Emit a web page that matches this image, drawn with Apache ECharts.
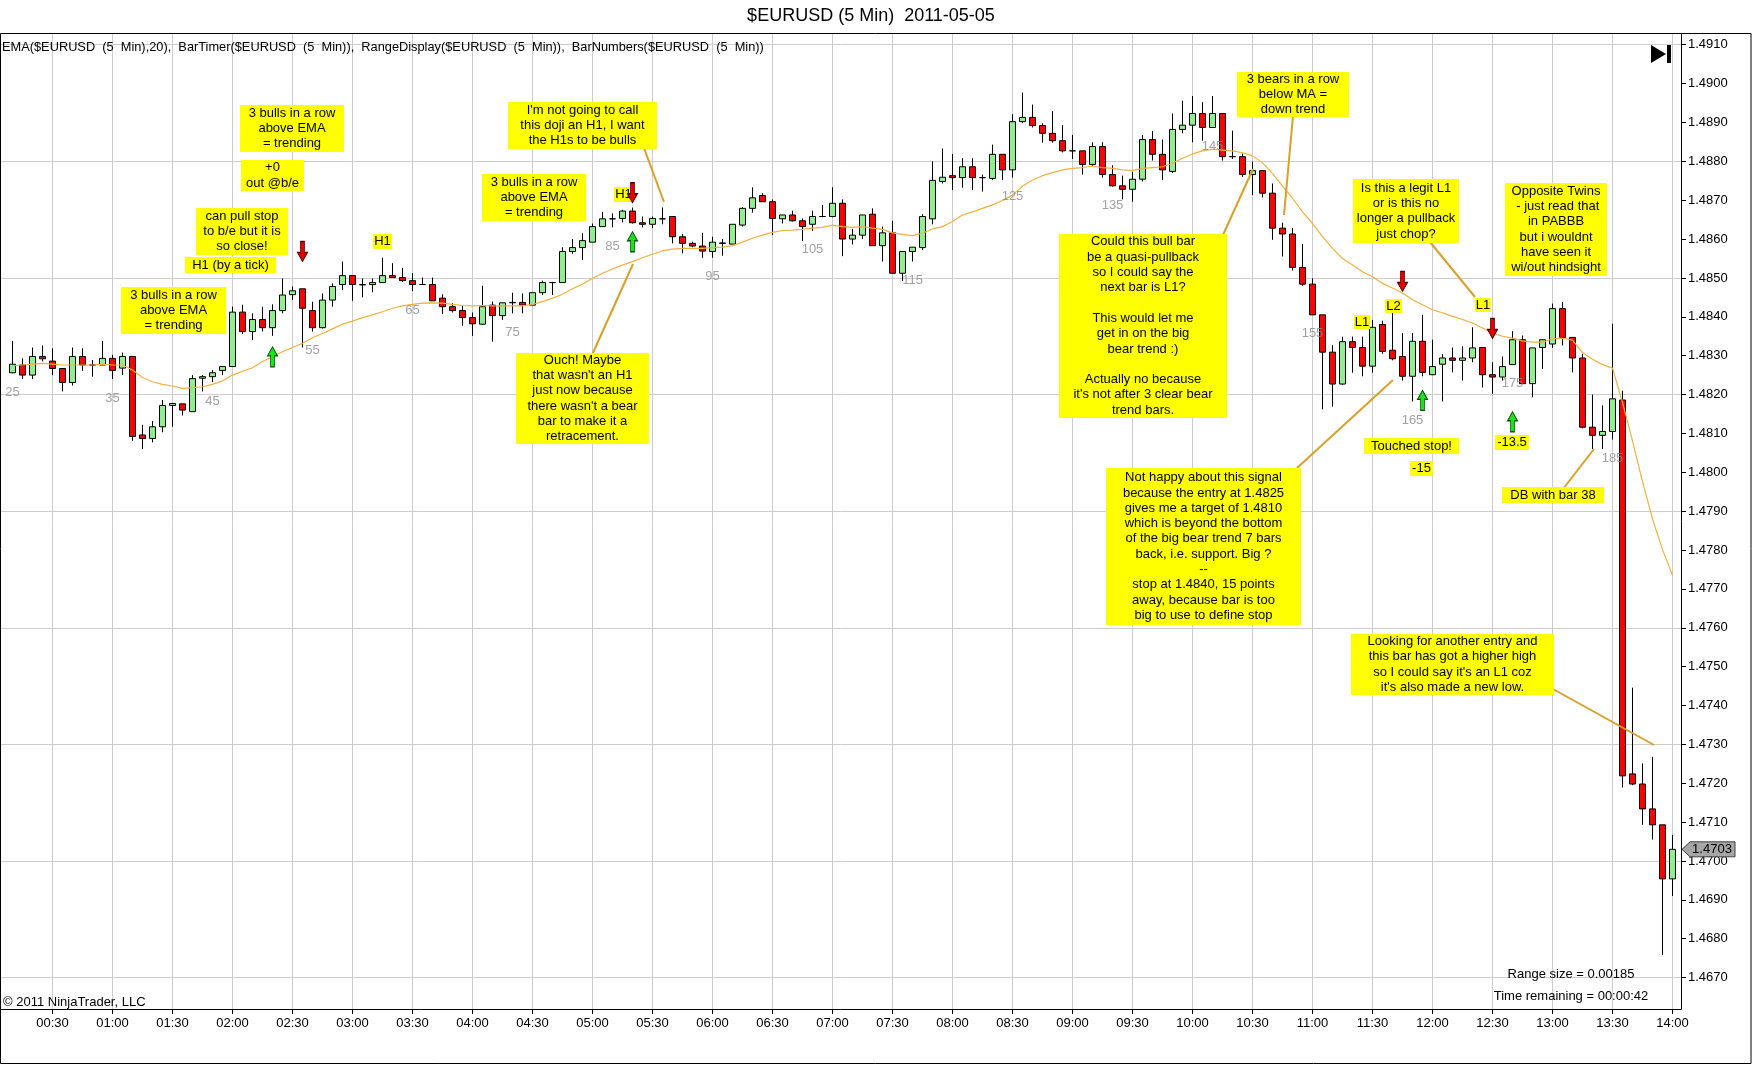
<!DOCTYPE html>
<html><head><meta charset="utf-8">
<script src="https://cdn.jsdelivr.net/npm/echarts@6/dist/echarts.min.js"></script>
<style>html,body{margin:0;padding:0;background:#fff}#c{width:1752px;height:1065px}</style>
</head><body><div id="c"></div>
<script>
// ---- data ----
const firstBarNumber = 25;
const firstBarMinute = 10;   // 00:10
const barMinutes = 5;
const openPrices = [
1.48256,1.48276,1.48250,1.48298,1.48286,1.48267,1.48231,1.48298,1.48276,1.48276,
1.48293,1.48268,1.48298,1.48096,1.48087,1.48117,1.48172,1.48176,1.48156,1.48242,
1.48246,1.48262,1.48272,1.48412,1.48362,1.48393,1.48372,1.48416,1.48457,1.48472,
1.48416,1.48372,1.48443,1.48483,1.48506,1.48483,1.48483,1.48488,1.48506,1.48501,
1.48493,1.48483,1.48483,1.48448,1.48426,1.48416,1.48398,1.48381,1.48430,1.48403,
1.48436,1.48437,1.48430,1.48462,1.48488,1.48488,1.48568,1.48578,1.48592,1.48632,
1.48652,1.48653,1.48672,1.48642,1.48638,1.48652,1.48658,1.48606,1.48589,1.48582,
1.48568,1.48590,1.48587,1.48636,1.48679,1.48712,1.48696,1.48652,1.48662,1.48647,
1.48638,1.48658,1.48658,1.48692,1.48600,1.48610,1.48664,1.48583,1.48616,1.48512,
1.48568,1.48578,1.48652,1.48748,1.48763,1.48758,1.48786,1.48758,1.48756,1.48818,
1.48778,1.48902,1.48913,1.48892,1.48872,1.48853,1.48827,1.48827,1.48792,1.48838,
1.48766,1.48737,1.48728,1.48754,1.48856,1.48818,1.48774,1.48882,1.48893,1.48923,
1.48887,1.48923,1.48812,1.48812,1.48766,1.48776,1.48718,1.48628,1.48613,1.48527,
1.48484,1.48405,1.48309,1.48227,1.48336,1.48321,1.48273,1.48380,1.48314,1.48298,
1.48247,1.48337,1.48251,1.48278,1.48294,1.48288,1.48294,1.48321,1.48251,1.48245,
1.48277,1.48341,1.48228,1.48321,1.48330,1.48421,1.48347,1.48294,1.48116,1.48095,
1.48105,1.48186,1.47224,1.47198,1.47134,1.47093,1.46954];
const closePrices = [
1.48278,1.48250,1.48298,1.48292,1.48267,1.48231,1.48298,1.48276,1.48276,1.48293,
1.48262,1.48298,1.48092,1.48087,1.48117,1.48172,1.48177,1.48160,1.48241,1.48246,
1.48256,1.48272,1.48412,1.48362,1.48393,1.48372,1.48416,1.48456,1.48467,1.48422,
1.48372,1.48443,1.48478,1.48506,1.48483,1.48482,1.48488,1.48506,1.48501,1.48493,
1.48483,1.48483,1.48441,1.48426,1.48416,1.48398,1.48382,1.48426,1.48403,1.48436,
1.48437,1.48430,1.48462,1.48488,1.48488,1.48568,1.48578,1.48596,1.48632,1.48652,
1.48652,1.48672,1.48642,1.48638,1.48653,1.48652,1.48606,1.48589,1.48582,1.48569,
1.48592,1.48589,1.48638,1.48679,1.48706,1.48696,1.48653,1.48662,1.48647,1.48632,
1.48658,1.48658,1.48692,1.48600,1.48610,1.48662,1.48583,1.48616,1.48512,1.48568,
1.48579,1.48658,1.48751,1.48759,1.48758,1.48786,1.48758,1.48758,1.48818,1.48778,
1.48902,1.48913,1.48892,1.48872,1.48853,1.48827,1.48827,1.48792,1.48838,1.48766,
1.48737,1.48728,1.48754,1.48856,1.48818,1.48778,1.48882,1.48893,1.48923,1.48887,
1.48923,1.48812,1.48812,1.48766,1.48776,1.48718,1.48628,1.48613,1.48527,1.48484,
1.48405,1.48309,1.48227,1.48336,1.48321,1.48273,1.48373,1.48311,1.48292,1.48247,
1.48337,1.48257,1.48272,1.48294,1.48288,1.48294,1.48320,1.48251,1.48245,1.48272,
1.48341,1.48228,1.48320,1.48341,1.48421,1.48347,1.48294,1.48116,1.48095,1.48105,
1.48189,1.47219,1.47198,1.47134,1.47093,1.46954,1.47030];
const lowPrices = [
1.48255,1.48240,1.48240,1.48285,1.48250,1.48208,1.48223,1.48261,1.48246,1.48276,
1.48240,1.48250,1.48081,1.48060,1.48077,1.48103,1.48117,1.48146,1.48156,1.48208,
1.48232,1.48250,1.48272,1.48356,1.48340,1.48362,1.48351,1.48409,1.48443,1.48321,
1.48362,1.48370,1.48426,1.48469,1.48441,1.48450,1.48463,1.48488,1.48501,1.48490,
1.48466,1.48482,1.48441,1.48407,1.48411,1.48377,1.48351,1.48380,1.48336,1.48392,
1.48409,1.48409,1.48430,1.48456,1.48456,1.48488,1.48562,1.48546,1.48592,1.48632,
1.48630,1.48643,1.48640,1.48630,1.48628,1.48638,1.48589,1.48563,1.48579,1.48552,
1.48552,1.48557,1.48587,1.48632,1.48668,1.48696,1.48610,1.48640,1.48645,1.48595,
1.48621,1.48656,1.48656,1.48556,1.48586,1.48600,1.48583,1.48542,1.48512,1.48492,
1.48542,1.48572,1.48638,1.48743,1.48726,1.48732,1.48726,1.48722,1.48752,1.48752,
1.48758,1.48898,1.48887,1.48848,1.48848,1.48823,1.48806,1.48766,1.48786,1.48758,
1.48735,1.48702,1.48696,1.48748,1.48802,1.48752,1.48770,1.48872,1.48849,1.48853,
1.48887,1.48802,1.48806,1.48760,1.48713,1.48707,1.48598,1.48555,1.48519,1.48480,
1.48405,1.48162,1.48169,1.48225,1.48256,1.48247,1.48256,1.48305,1.48288,1.48236,
1.48182,1.48247,1.48250,1.48182,1.48257,1.48236,1.48283,1.48218,1.48202,1.48236,
1.48277,1.48228,1.48193,1.48266,1.48320,1.48326,1.48257,1.48113,1.48060,1.48060,
1.48084,1.47189,1.47195,1.47093,1.47055,1.46758,1.46910];
const highPrices = [
1.48338,1.48293,1.48321,1.48326,1.48319,1.48267,1.48321,1.48319,1.48289,1.48338,
1.48302,1.48308,1.48298,1.48122,1.48132,1.48186,1.48178,1.48176,1.48250,1.48250,
1.48263,1.48272,1.48426,1.48431,1.48409,1.48426,1.48432,1.48499,1.48478,1.48472,
1.48439,1.48460,1.48486,1.48542,1.48506,1.48499,1.48499,1.48552,1.48538,1.48526,
1.48512,1.48501,1.48501,1.48458,1.48435,1.48429,1.48411,1.48480,1.48439,1.48436,
1.48462,1.48460,1.48462,1.48493,1.48490,1.48579,1.48600,1.48615,1.48640,1.48670,
1.48666,1.48675,1.48681,1.48658,1.48658,1.48681,1.48658,1.48613,1.48593,1.48616,
1.48606,1.48600,1.48638,1.48682,1.48733,1.48718,1.48702,1.48662,1.48673,1.48653,
1.48673,1.48688,1.48733,1.48702,1.48626,1.48662,1.48679,1.48632,1.48647,1.48568,
1.48579,1.48664,1.48800,1.48833,1.48819,1.48808,1.48808,1.48766,1.48843,1.48818,
1.48921,1.48977,1.48946,1.48898,1.48929,1.48893,1.48868,1.48827,1.48849,1.48849,
1.48790,1.48763,1.48773,1.48868,1.48878,1.48856,1.48923,1.48956,1.48968,1.48952,
1.48968,1.48923,1.48879,1.48820,1.48799,1.48776,1.48743,1.48642,1.48628,1.48587,
1.48499,1.48405,1.48327,1.48349,1.48349,1.48349,1.48392,1.48390,1.48435,1.48358,
1.48358,1.48405,1.48341,1.48304,1.48321,1.48324,1.48373,1.48321,1.48283,1.48298,
1.48363,1.48352,1.48320,1.48341,1.48434,1.48438,1.48347,1.48305,1.48200,1.48172,
1.48382,1.48210,1.47446,1.47251,1.47268,1.47093,1.47067];
const emaValues = [
1.48274,1.48276,1.48278,1.48280,1.48278,1.48276,1.48276,1.48276,1.48276,1.48278,
1.48276,1.48276,1.48263,1.48244,1.48233,1.48226,1.48222,1.48216,1.48218,1.48220,
1.48226,1.48235,1.48250,1.48260,1.48269,1.48285,1.48297,1.48310,1.48321,1.48332,
1.48346,1.48357,1.48369,1.48381,1.48389,1.48398,1.48405,1.48413,1.48422,1.48428,
1.48432,1.48435,1.48436,1.48435,1.48432,1.48429,1.48428,1.48429,1.48428,1.48428,
1.48428,1.48428,1.48432,1.48439,1.48448,1.48458,1.48472,1.48484,1.48499,1.48512,
1.48523,1.48533,1.48542,1.48552,1.48561,1.48570,1.48574,1.48576,1.48576,1.48576,
1.48578,1.48579,1.48583,1.48592,1.48602,1.48610,1.48617,1.48622,1.48623,1.48625,
1.48628,1.48630,1.48636,1.48632,1.48630,1.48632,1.48628,1.48625,1.48616,1.48612,
1.48609,1.48615,1.48626,1.48632,1.48645,1.48662,1.48670,1.48679,1.48688,1.48699,
1.48713,1.48736,1.48752,1.48763,1.48771,1.48778,1.48782,1.48784,1.48788,1.48784,
1.48782,1.48778,1.48776,1.48782,1.48784,1.48786,1.48795,1.48808,1.48819,1.48827,
1.48831,1.48829,1.48827,1.48822,1.48814,1.48796,1.48769,1.48736,1.48705,1.48670,
1.48640,1.48606,1.48576,1.48550,1.48533,1.48516,1.48503,1.48486,1.48474,1.48461,
1.48444,1.48431,1.48418,1.48410,1.48401,1.48393,1.48384,1.48371,1.48358,1.48350,
1.48345,1.48338,1.48335,1.48335,1.48343,1.48345,1.48340,1.48308,1.48291,1.48277,
1.48268,1.48180,1.48081,1.47976,1.47880,1.47801,1.47735];
const timeTickLabels = ['00:30','01:00','01:30','02:00','02:30','03:00','03:30','04:00','04:30','05:00',
  '05:30','06:00','06:30','07:00','07:30','08:00','08:30','09:00','09:30','10:00','10:30','11:00',
  '11:30','12:00','12:30','13:00','13:30','14:00'];
// signal arrows: [bar number, price]
const downArrowMarks = [[54,1.48568],[87,1.48719],[164,1.48491],[173,1.48370]];
const upArrowMarks = [[51,1.48297],[87,1.48593],[166,1.48185],[175,1.48130]];

// ---- build ----
const FONT = '"Liberation Sans", Arial, sans-serif';
const categories = openPrices.map((_, i) => {
  const m = firstBarMinute + i * barMinutes;
  return String(Math.floor(m / 60)).padStart(2, '0') + ':' + String(m % 60).padStart(2, '0');
});
const candleData = openPrices.map((o, i) => [o, closePrices[i], lowPrices[i], highPrices[i]]);
const barNoData = [];
openPrices.forEach((o, i) => {
  const n = firstBarNumber + i;
  if (n % 10 === 5) barNoData.push({ value: [i, lowPrices[i]], barNo: n });
});
const toIdx = a => a.map(([n, p]) => [n - firstBarNumber, p]);
const isTick = (idx, val) => timeTickLabels.indexOf(val) >= 0;

const chart = echarts.init(document.getElementById('c'), null, { renderer: 'canvas', width: 1752, height: 1065 });
chart.setOption({
  animation: false,
  backgroundColor: '#ffffff',
  grid: [
    { left: 7.5, width: 1670, top: 44.7, height: 932.9, outerBoundsMode: 'none' },
    { left: 0, width: 1681, top: 44.7, height: 932.9, outerBoundsMode: 'none' },
    { left: 12.5, width: 1660, top: 33.5, height: 975.5, outerBoundsMode: 'none' }
  ],
  xAxis: [
    { type: 'category', gridIndex: 0, data: categories, show: false },
    { type: 'value', gridIndex: 1, show: false, min: 0, max: 1 },
    { type: 'category', gridIndex: 2, data: categories, boundaryGap: false,
      axisLine: { show: false },
      axisTick: { show: true, interval: isTick, length: 5, lineStyle: { color: '#000' } },
      axisLabel: { interval: isTick, color: '#000', fontSize: 13, fontFamily: FONT, margin: 8 },
      splitLine: { show: true, interval: isTick, lineStyle: { color: '#cccccc', width: 1 } } }
  ],
  yAxis: [
    { type: 'value', gridIndex: 0, position: 'right', offset: 3.5, min: 1.467, max: 1.491, interval: 0.001,
      axisLine: { show: false },
      axisTick: { show: true, length: 5, lineStyle: { color: '#000' } },
      axisLabel: { color: '#000', fontSize: 13, fontFamily: FONT, margin: 7, formatter: v => v.toFixed(4) },
      splitLine: { show: false } },
    { type: 'value', gridIndex: 1, min: 1.467, max: 1.491, interval: 0.003,
      axisLine: { show: false }, axisTick: { show: false }, axisLabel: { show: false },
      splitLine: { show: true, lineStyle: { color: '#cccccc', width: 1 } } },
    { type: 'value', gridIndex: 2, show: false, min: 0, max: 1 }
  ],
  series: [
    { type: 'candlestick', xAxisIndex: 0, yAxisIndex: 0, data: candleData, barWidth: 7, z: 3,
      itemStyle: { color: '#90EE90', color0: '#FF0000', borderColor: '#000', borderColor0: '#000', borderColorDoji: '#000', borderWidth: 1 } },
    { type: 'line', xAxisIndex: 0, yAxisIndex: 0, data: emaValues, symbol: 'none', z: 4, silent: true,
      lineStyle: { color: '#F0B040', width: 1.2 } },
    { type: 'scatter', xAxisIndex: 0, yAxisIndex: 0, data: barNoData, symbolSize: 1, z: 4, silent: true,
      itemStyle: { color: 'rgba(0,0,0,0)' },
      label: { show: true, position: 'bottom', distance: 12, formatter: p => String(p.data.barNo),
        color: '#8a8a8a', fontSize: 13, fontFamily: FONT } },
    { type: 'scatter', xAxisIndex: 0, yAxisIndex: 0, data: toIdx(downArrowMarks), z: 10, silent: true,
      symbol: 'path://M3,0L7,0L7,11L10,11L5,20L0,11L3,11Z', symbolSize: [10, 20],
      itemStyle: { color: '#E60000', borderColor: '#4a0000', borderWidth: 1, opacity: 1 } },
    { type: 'scatter', xAxisIndex: 0, yAxisIndex: 0, data: toIdx(upArrowMarks), z: 10, silent: true,
      symbol: 'path://M5,0L10,9L7,9L7,20L3,20L3,9L0,9Z', symbolSize: [10, 20],
      itemStyle: { color: '#1EE01E', borderColor: '#004a00', borderWidth: 1, opacity: 1 } }
  ]
});

// ---- annotations (layout, pixel space) ----
const boxes = [
  { x: 121, y: 287, w: 105, h: 47, t: '3 bulls in a row\nabove EMA\n= trending' },
  { x: 185, y: 257, w: 91, h: 16, t: 'H1 (by a tick)' },
  { x: 196, y: 208, w: 92, h: 47, t: 'can pull stop\nto b/e but it is\nso close!' },
  { x: 241, y: 160, w: 63, h: 31, t: '+0\nout @b/e' },
  { x: 240, y: 105, w: 104, h: 47, t: '3 bulls in a row\nabove EMA\n= trending' },
  { x: 373, y: 234, w: 19, h: 15, t: 'H1' },
  { x: 508, y: 102, w: 149, h: 47, t: "I'm not going to call\nthis doji an H1, I want\nthe H1s to be bulls" },
  { x: 482, y: 174, w: 104, h: 47, t: '3 bulls in a row\nabove EMA\n= trending' },
  { x: 614, y: 187, w: 19, h: 15, t: 'H1' },
  { x: 516, y: 353, w: 133, h: 91, t: "Ouch! Maybe\nthat wasn't an H1\njust now because\nthere wasn't a bear\nbar to make it a\nretracement." },
  { x: 1237, y: 72, w: 112, h: 45, t: '3 bears in a row\nbelow MA =\ndown trend' },
  { x: 1059, y: 234, w: 168, h: 184, t: "Could this bull bar\nbe a quasi-pullback\nso I could say the\nnext bar is L1?\n \nThis would let me\nget in on the big\nbear trend :)\n \nActually no because\nit's not after 3 clear bear\ntrend bars." },
  { x: 1106, y: 468, w: 195, h: 157, t: 'Not happy about this signal\nbecause the entry at 1.4825\ngives me a target of 1.4810\nwhich is beyond the bottom\nof the big bear trend 7 bars\nback, i.e. support. Big ?\n--\nstop at 1.4840, 15 points\naway, because bar is too\nbig to use to define stop' },
  { x: 1353, y: 179, w: 106, h: 64, t: 'Is this a legit L1\nor is this no\nlonger a pullback\njust chop?' },
  { x: 1505, y: 183, w: 102, h: 93, t: 'Opposite Twins\n - just read that\nin PABBB\nbut i wouldnt\nhave seen it\nwi/out hindsight' },
  { x: 1354, y: 315, w: 16, h: 14, t: 'L1' },
  { x: 1385, y: 299, w: 17, h: 14, t: 'L2' },
  { x: 1475, y: 298, w: 16, h: 14, t: 'L1' },
  { x: 1364, y: 438, w: 95, h: 16, t: 'Touched stop!' },
  { x: 1410, y: 461, w: 23, h: 15, t: '-15' },
  { x: 1495, y: 435, w: 34, h: 15, t: '-13.5' },
  { x: 1502, y: 487, w: 102, h: 16, t: 'DB with bar 38' },
  { x: 1351, y: 634, w: 203, h: 61, t: "Looking for another entry and\nthis bar has got a higher high\nso I could say it's an L1 coz\nit's also made a new low." }
];
const pointers = [
  [592, 355, 633, 264], [641, 140, 664, 202], [1293, 116, 1284, 215], [1223, 235, 1253, 169],
  [1430, 242, 1475, 297], [1297, 468, 1393, 380], [1563, 489, 1594, 449], [1553, 689, 1654, 745]
];

const g = [];
g.push({ type: 'rect', silent: true, z: 1, shape: { x: 0.5, y: 33.5, width: 1750.5, height: 1030 }, style: { fill: 'none', stroke: '#000', lineWidth: 1 } });
g.push({ type: 'line', silent: true, z: 1, shape: { x1: 1681.5, y1: 33.5, x2: 1681.5, y2: 1009.5 }, style: { stroke: '#000', lineWidth: 1 } });
g.push({ type: 'line', silent: true, z: 1, shape: { x1: 0, y1: 1009.5, x2: 1681.5, y2: 1009.5 }, style: { stroke: '#000', lineWidth: 1 } });
g.push({ type: 'text', silent: true, z: 6, style: { text: '$EURUSD (5 Min)  2011-05-05', x: 871, y: 16, align: 'center', verticalAlign: 'middle', fontSize: 18, fontFamily: FONT, fill: '#000' } });
g.push({ type: 'text', silent: true, z: 6, style: { text: 'EMA($EURUSD  (5  Min),20),  BarTimer($EURUSD  (5  Min)),  RangeDisplay($EURUSD  (5  Min)),  BarNumbers($EURUSD  (5  Min))', x: 2, y: 47, align: 'left', verticalAlign: 'middle', fontSize: 12.8, fontFamily: FONT, fill: '#000' } });
g.push({ type: 'text', silent: true, z: 6, style: { text: '\u00A9 2011 NinjaTrader, LLC', x: 3, y: 1002, align: 'left', verticalAlign: 'middle', fontSize: 13, fontFamily: FONT, fill: '#000' } });
g.push({ type: 'text', silent: true, z: 6, style: { text: 'Range size = 0.00185', x: 1571, y: 974, align: 'center', verticalAlign: 'middle', fontSize: 13, fontFamily: FONT, fill: '#000' } });
g.push({ type: 'text', silent: true, z: 6, style: { text: 'Time remaining = 00:00:42', x: 1571, y: 996, align: 'center', verticalAlign: 'middle', fontSize: 13, fontFamily: FONT, fill: '#000' } });
// go-to-end icon
g.push({ type: 'polygon', silent: true, z: 6, shape: { points: [[1651, 45], [1651, 63], [1666, 54]] }, style: { fill: '#000' } });
g.push({ type: 'rect', silent: true, z: 6, shape: { x: 1667, y: 45, width: 4, height: 18 }, style: { fill: '#000' } });
pointers.forEach(p => g.push({ type: 'line', silent: true, z: 5, shape: { x1: p[0], y1: p[1], x2: p[2], y2: p[3] }, style: { stroke: '#D8A028', lineWidth: 2 } }));
boxes.forEach(b => {
  g.push({ type: 'rect', silent: true, z: 6, shape: { x: b.x, y: b.y, width: b.w, height: b.h }, style: { fill: '#FFFF00' } });
  g.push({ type: 'text', silent: true, z: 7, style: { text: b.t, x: b.x + b.w / 2, y: b.y + b.h / 2, align: 'center', verticalAlign: 'middle', fontSize: 13, lineHeight: 15.3, fontFamily: FONT, fill: '#000' } });
});
// last price tag
const lastClose = closePrices[closePrices.length - 1];
const yl = chart.convertToPixel({ xAxisIndex: 0, yAxisIndex: 0 }, [0, lastClose])[1];
g.push({ type: 'polygon', silent: true, z: 8, shape: { points: [[1682, yl], [1690, yl - 7.5], [1735, yl - 7.5], [1735, yl + 7.5], [1690, yl + 7.5]] }, style: { fill: '#A6A6A6', stroke: '#404040', lineWidth: 1 } });
g.push({ type: 'text', silent: true, z: 9, style: { text: lastClose.toFixed(4), x: 1712, y: yl, align: 'center', verticalAlign: 'middle', fontSize: 13, fontFamily: FONT, fill: '#000' } });
chart.setOption({ graphic: g });
</script>
</body></html>
